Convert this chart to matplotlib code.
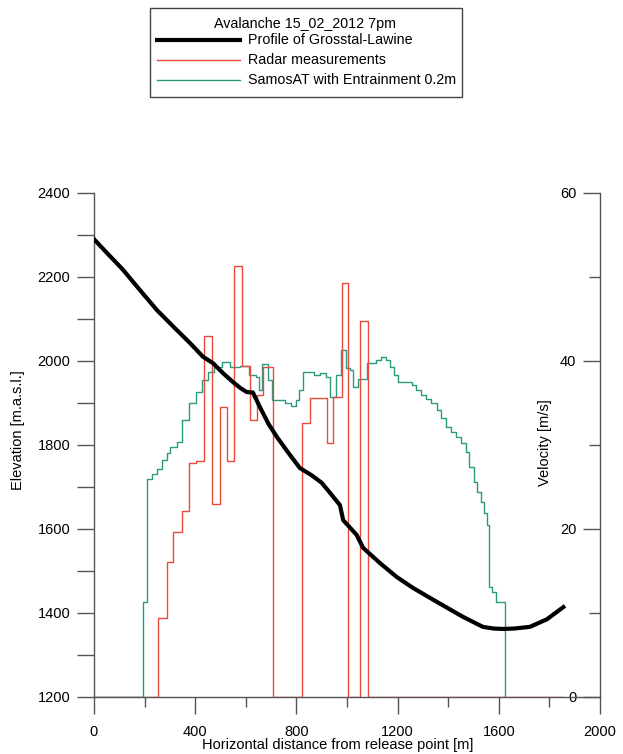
import numpy as np
import matplotlib
matplotlib.use('Agg')
import matplotlib.pyplot as plt
from matplotlib.lines import Line2D
from matplotlib.patches import Rectangle
from matplotlib.ticker import MultipleLocator

plt.rcParams['font.family'] = ['Liberation Sans', 'DejaVu Sans']

# profile of the avalanche path (elevation, left axis)
profile_x = [0, 50, 115, 180, 249, 320, 379, 431, 470, 510, 549, 580, 604, 628, 656, 690, 723,
             770, 814, 860, 900, 933, 972, 985, 1038, 1064, 1130, 1196, 1260, 1328, 1400, 1458,
             1537, 1580, 1617, 1660, 1723, 1790, 1855]
profile_elev = [2290, 2258, 2217, 2170, 2121, 2078, 2043, 2010, 1995, 1971, 1950, 1935, 1926, 1925,
                1890, 1850, 1819, 1780, 1745, 1728, 1710, 1686, 1657, 1621, 1586, 1555, 1519, 1486,
                1460, 1436, 1411, 1391, 1367, 1363, 1362, 1363, 1367, 1385, 1414]

# radar velocities (right axis), step starts
radar_x = [0, 254, 287, 313, 346, 375, 403, 436, 465, 498, 524, 553, 584, 616, 643, 669, 706,
           824, 854, 920, 943, 979, 1005, 1051, 1082, 1855]
radar_v = [0, 9.4, 16.1, 19.7, 22.2, 27.8, 28.1, 43.0, 23.0, 34.5, 28.1, 51.3, 39.4, 33.0, 36.0,
           39.3, 0, 32.6, 35.6, 30.2, 35.7, 49.3, 0, 44.8, 0, 0]

# SamosAT simulation velocities (right axis), step starts
samos_x = [0, 194, 210, 229, 249, 269, 288, 300, 328, 348, 375, 403, 427, 450, 474, 506, 537, 577,
           612, 640, 652, 664, 688, 704, 755, 779, 798, 810, 826, 870, 893, 917, 933, 956, 976, 996,
           1012, 1024, 1043, 1079, 1115, 1134, 1154, 1170, 1186, 1202, 1257, 1273, 1292, 1312,
           1332, 1356, 1371, 1391, 1411, 1431, 1451, 1470, 1482, 1502, 1514, 1530, 1541, 1553,
           1561, 1573, 1589, 1624]
samos_v = [0, 11.3, 26.0, 26.6, 27.2, 28.2, 29.0, 29.8, 30.4, 33.0, 35.0, 36.3, 37.7, 38.7, 39.3,
           39.9, 39.3, 39.4, 38.3, 38.1, 36.5, 39.7, 37.7, 35.4, 35.0, 34.6, 35.4, 36.5, 38.7, 38.3,
           38.6, 38.1, 35.7, 38.3, 41.3, 39.2, 38.9, 36.9, 37.9, 39.8, 40.1, 40.5, 40.1, 39.3, 38.3,
           37.5, 37.2, 36.5, 36.0, 35.5, 35.0, 34.2, 33.2, 32.1, 31.5, 31.0, 30.2, 29.2, 27.4, 25.6,
           24.4, 23.2, 21.9, 20.5, 13.1, 12.5, 11.3, 0]

red = '#e84a3c'
teal = '#2a9a7e'
black = '#000000'
spine_col = '#555555'

fig = plt.figure(figsize=(6.23, 7.54), dpi=100)
ax = fig.add_axes([94 / 623, 1 - 697 / 754, 506 / 623, 504 / 754])
ax2 = ax.twinx()

# velocity series on the right axis
ax2.step(samos_x, samos_v, where='post', color=teal, lw=1.0, zorder=2)
ax2.step(radar_x, radar_v, where='post', color=red, lw=1.0, zorder=3)
ax2.set_ylim(0, 60)

# elevation profile on top
ax.set_zorder(ax2.get_zorder() + 1)
ax.patch.set_visible(False)
ax.plot(profile_x, profile_elev, color=black, lw=3.0, solid_joinstyle='round', zorder=5)
ax.set_xlim(0, 2000)
ax.set_ylim(1200, 2400)

for a in (ax, ax2):
    a.spines['top'].set_visible(False)
    for s in ('left', 'right', 'bottom'):
        a.spines[s].set_color(spine_col)
        a.spines[s].set_linewidth(1.0)
ax.spines['right'].set_visible(False)
ax2.spines['left'].set_visible(False)
ax2.spines['bottom'].set_visible(False)

ax.xaxis.set_major_locator(MultipleLocator(400))
ax.xaxis.set_minor_locator(MultipleLocator(200))
ax.yaxis.set_major_locator(MultipleLocator(200))
ax.yaxis.set_minor_locator(MultipleLocator(100))
ax.tick_params(axis='x', which='major', length=12, width=1, color=spine_col, labelsize=10.5, pad=8)
ax.tick_params(axis='x', which='minor', length=7, width=1, color=spine_col)
ax.tick_params(axis='y', which='both', length=12, width=1, color=spine_col, labelsize=10.5, pad=5)

ax2.yaxis.set_major_locator(MultipleLocator(20))
ax2.yaxis.set_minor_locator(MultipleLocator(10))
ax2.tick_params(axis='y', which='major', direction='in', length=12, width=1, color=spine_col,
                labelsize=10.5, pad=-17)
ax2.tick_params(axis='y', which='minor', direction='in', length=8, width=1, color=spine_col)
for lbl in ax2.get_yticklabels():
    lbl.set_horizontalalignment('right')

ax.set_xlabel('Horizontal distance from release point [m]', fontsize=10.5)
ax.xaxis.set_label_coords(0.482, -0.082)
ax.set_ylabel('Elevation [m.a.s.l.]', fontsize=10.5)
ax.yaxis.set_label_coords(-0.137, 0.53)
ax2.set_ylabel('Velocity [m/s]', fontsize=10.5, rotation=90, va='center')
ax2.yaxis.set_label_coords(0.891, 0.504)

# legend box drawn in figure coordinates
fig.add_artist(Rectangle((150 / 623, 1 - 97 / 754), 312 / 623, 89 / 754,
                         transform=fig.transFigure, fill=False, edgecolor='#444444', lw=1.0))
fig.text(305 / 623, 1 - 24 / 754, 'Avalanche 15_02_2012 7pm', ha='center', va='center', fontsize=10.3)
legend_rows = [('Profile of Grosstal-Lawine', black, 3.0, 40),
               ('Radar measurements', red, 1.0, 60),
               ('SamosAT with Entrainment 0.2m', teal, 1.0, 80)]
for label, col, lw, ypix in legend_rows:
    yf = 1 - ypix / 754
    fig.add_artist(Line2D([157 / 623, 240 / 623], [yf, yf], transform=fig.transFigure,
                          color=col, lw=lw))
    fig.text(248 / 623, yf, label, ha='left', va='center', fontsize=10.3)

fig.savefig('out.png', dpi=100)
